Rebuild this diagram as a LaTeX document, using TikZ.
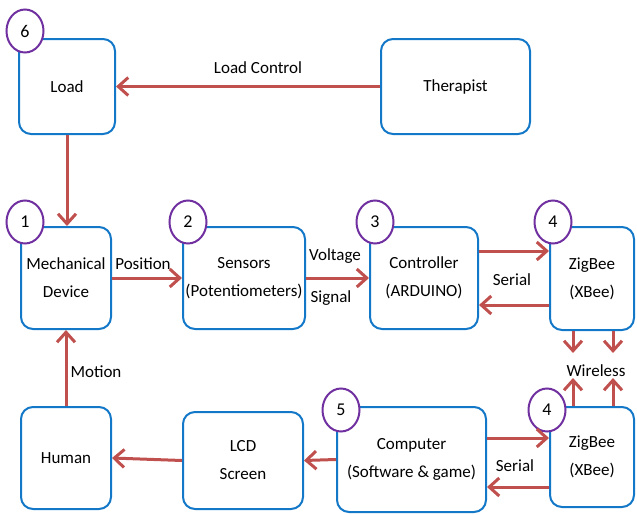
\documentclass[tikz,border=0pt]{standalone}
\usepackage{fontspec}
\setmainfont{Carlito}
\usetikzlibrary{arrows.meta,calc,shapes.geometric}
\definecolor{boxblue}{RGB}{20,120,200}
\definecolor{arrred}{RGB}{192,80,77}
\definecolor{numpurple}{RGB}{112,48,160}
\begin{document}
\begin{tikzpicture}[x=1pt,y=-1pt,
  blk/.style={draw=boxblue,line width=2pt,rounded corners=12pt,fill=white,
    align=center,inner sep=0pt,font=\fontsize{17}{28}\selectfont},
  num/.style={draw=numpurple,line width=2pt,ellipse,fill=white,
    minimum width=37pt,minimum height=43pt,inner sep=0pt,
    font=\fontsize{18}{20}\selectfont},
  lbl/.style={font=\fontsize{17}{20}\selectfont,inner sep=1pt},
  arr/.style={draw=arrred,line width=3pt,
    -{Straight Barb[length=10pt,width=18pt]}}]
\useasboundingbox (0,0) rectangle (637,514);

% blocks
\node[blk,minimum width=96pt,minimum height=95pt] (load) at (67,86.5) {Load};
\node[blk,minimum width=149pt,minimum height=95pt] (ther) at (455.5,86.5) {Therapist};
\node[blk,minimum width=90pt,minimum height=102pt] (mech) at (66,278) {Mechanical\\Device};
\node[blk,minimum width=122pt,minimum height=102pt] (sens) at (244,278) {Sensors\\(Potentiometers)};
\node[blk,minimum width=108pt,minimum height=102pt] (ctrl) at (424,278) {Controller\\(ARDUINO)};
\node[blk,minimum width=84pt,minimum height=103pt] (zigA) at (592,278.5) {ZigBee\\(XBee)};
\node[blk,minimum width=90pt,minimum height=102pt] (hum) at (66,458) {Human};
\node[blk,minimum width=120pt,minimum height=97pt] (lcd) at (243,460.5) {LCD\\Screen};
\node[blk,minimum width=149pt,minimum height=105pt] (comp) at (411.5,459.5) {Computer\\(Software \& game)};
\node[blk,minimum width=84pt,minimum height=100pt] (zigB) at (592,457) {ZigBee\\(XBee)};

% numbered markers
\node[num] (n6) at (25,31) {6};
\node[num] (n1) at (25,222) {1};
\node[num] (n2) at (188,222) {2};
\node[num] (n3) at (375,222) {3};
\node[num] (n4a) at (553,222) {4};
\node[num] (n5) at (341,410) {5};
\node[num] (n4b) at (547,410) {4};

% wireless link ends
\coordinate (wA1) at (573,353);
\coordinate (wA2) at (613,353);
\coordinate (wB1) at (573,378);
\coordinate (wB2) at (613,378);

% connectors
\draw[arr] (ther.west) -- (load.east);
\draw[arr] (load.south) -- (load.south |- mech.north);
\draw[arr] (mech.east) -- (sens.west);
\draw[arr] (sens.east) -- (ctrl.west);
\draw[arr] ($(ctrl.east)+(0,-27)$) -- ($(zigA.west)+(0,-27.5)$);
\draw[arr] ($(zigA.west)+(0,26.5)$) -- ($(ctrl.east)+(0,27)$);
\draw[arr] (wA1 |- zigA.south) -- (wA1);
\draw[arr] (wA2 |- zigA.south) -- (wA2);
\draw[arr] (wB1 |- zigB.north) -- (wB1);
\draw[arr] (wB2 |- zigB.north) -- (wB2);
\draw[arr] ($(comp.east)+(0,-21.5)$) -- ($(zigB.west)+(0,-19)$);
\draw[arr] ($(zigB.west)+(0,30)$) -- ($(comp.east)+(0,27.5)$);
\draw[arr] (comp.west) -- (lcd.east);
\draw[arr] (lcd.west) -- (hum.east);
\draw[arr] (hum.north) -- (mech.south);

% connector labels
\node[lbl] (tLoadCtl) at (258,68) {Load Control};
\node[lbl] (tPos) at (143,264) {Position};
\node[lbl] (tVolt) at (335,256) {Voltage};
\node[lbl] (tSig) at (331,298) {Signal};
\node[lbl] (tSer1) at (512,280) {Serial};
\node[lbl] (tWire) at (596,371) {Wireless};
\node[lbl] (tSer2) at (515,466) {Serial};
\node[lbl] (tMot) at (96,372) {Motion};
\end{tikzpicture}
\end{document}
